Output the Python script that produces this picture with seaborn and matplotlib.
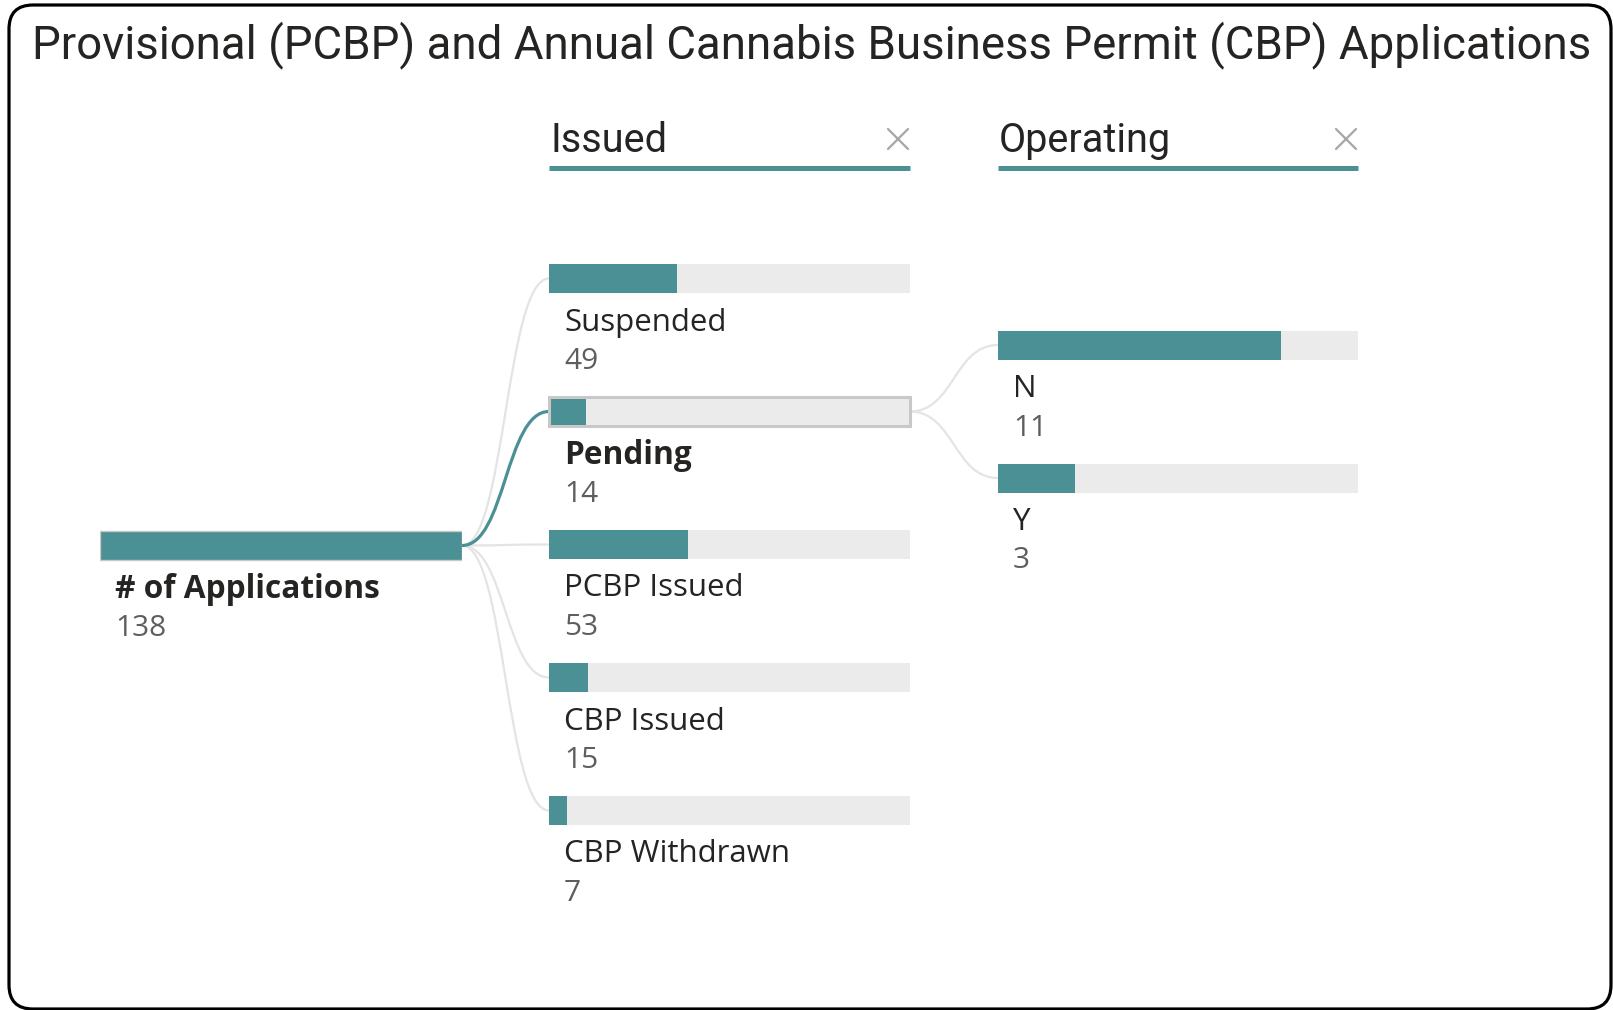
import numpy as np
import pandas as pd
import matplotlib
matplotlib.use("Agg")
import matplotlib.pyplot as plt
import seaborn as sns
from matplotlib.patches import FancyBboxPatch, PathPatch, Rectangle
from matplotlib.path import Path

# ---------------- data ----------------
title = "Provisional (PCBP) and Annual Cannabis Business Permit (CBP) Applications"
root_label = "# of Applications"
root_value = 138
issued_levels = ["Suspended", "Pending", "PCBP Issued", "CBP Issued", "CBP Withdrawn"]
issued_values = [49, 14, 53, 15, 7]
operating_levels = ["N", "Y"]
operating_values = [11, 3]
selected_issued = "Pending"
headers = ["Issued", "Operating"]

# ---------------- style ----------------
TEAL = "#4a9094"
TRACK = "#ebebeb"
LINK = "#e4e4e4"
OUTLINE = "#c8c8c8"
DARK = "#252423"
GREY_TXT = "#605e5c"
XCOL = "#a6a6a6"

sns.set_theme(style="white")
plt.rcParams["font.family"] = ["Open Sans", "DejaVu Sans"]

W, H, DPI = 1613, 1010, 100
fig = plt.figure(figsize=(W / DPI, H / DPI), dpi=DPI)
fig.patch.set_facecolor("white")
renderer = fig.canvas.get_renderer()


def px_axes(left, top, width, height, z=2):
    ax = fig.add_axes([left / W, 1 - (top + height) / H, width / W, height / H], zorder=z)
    ax.set_facecolor("none")
    return ax


bg = fig.add_axes([0, 0, 1, 1], zorder=0)
bg.set_xlim(0, W)
bg.set_ylim(H, 0)
bg.axis("off")


def fit_size(text, target_px, family, weight="normal"):
    t = fig.text(0, 0, text, fontsize=20, family=family, weight=weight)
    w = t.get_window_extent(renderer).width
    t.remove()
    return 20 * target_px / w


LABEL_FS = fit_size("CBP Withdrawn", 226, ["Open Sans", "DejaVu Sans"])
BOLD_FS = fit_size("# of Applications", 265, ["Open Sans", "DejaVu Sans"], "bold")
VALUE_FS = fit_size("138", 51, ["Open Sans", "DejaVu Sans"])
HEAD_FS = fit_size("Operating", 172, ["Roboto", "DejaVu Sans"])
TITLE_FS = fit_size(title, 1559, ["Roboto", "DejaVu Sans"])

ROW = 133          # px between bar centres
BAR_H = 29 / ROW   # bar thickness in category units


def draw_column(ax, cats, vals, total, name, selected=None, edge=False):
    df = pd.DataFrame({name: cats, "value": vals, "total": [total] * len(cats)})
    sns.barplot(data=df, x="total", y=name, order=cats, color=TRACK, saturation=1,
                width=BAR_H, errorbar=None, ax=ax, linewidth=0)
    sns.barplot(data=df, x="value", y=name, order=cats, color=TEAL, saturation=1,
                width=BAR_H, errorbar=None, ax=ax,
                linewidth=1 if edge else 0, edgecolor=OUTLINE)
    ax.set_xlim(0, total)
    ax.set_ylim(len(cats) - 0.5, -0.5)
    ax.axis("off")
    for i, (c, v) in enumerate(zip(cats, vals)):
        bold = (c == selected) or edge
        ax.annotate(c, xy=(0, i), xytext=(15, -44), textcoords="offset pixels",
                    ha="left", va="center", color=DARK,
                    fontsize=BOLD_FS if bold else LABEL_FS,
                    weight="bold" if bold else "normal")
        ax.annotate(str(v), xy=(0, i), xytext=(15, -83), textcoords="offset pixels",
                    ha="left", va="center", color=GREY_TXT, fontsize=VALUE_FS)
    if selected is not None:
        p = ax.patches[cats.index(selected)]
        ax.add_patch(Rectangle(p.get_xy(), p.get_width(), p.get_height(), fill=False,
                               ec=OUTLINE, lw=2.2, zorder=5, clip_on=False))


# root column
ax0 = px_axes(100, 545.5 - ROW / 2, 362, ROW)
draw_column(ax0, [root_label], [root_value], root_value, "root", edge=True)

# issued column
ax1 = px_axes(549, 278.5 - ROW / 2, 361, ROW * len(issued_levels))
draw_column(ax1, issued_levels, issued_values, root_value, "Issued", selected=selected_issued)

# operating column
sel_val = issued_values[issued_levels.index(selected_issued)]
ax2 = px_axes(998, 345 - ROW / 2, 360, ROW * len(operating_levels))
draw_column(ax2, operating_levels, operating_values, sel_val, "Operating")


def to_bg(ax, pt):
    return bg.transData.inverted().transform(ax.transData.transform(pt))


def link(p0, p1, color, lw, z=1):
    xm = (p0[0] + p1[0]) / 2
    verts = [p0, (xm, p0[1]), (xm, p1[1]), p1]
    path = Path(verts, [Path.MOVETO, Path.CURVE4, Path.CURVE4, Path.CURVE4])
    bg.add_patch(PathPatch(path, fill=False, ec=color, lw=lw, zorder=z, capstyle="round"))


r0 = to_bg(ax0, (root_value, 0))
for i, c in enumerate(issued_levels):
    if c != selected_issued:
        link(r0, to_bg(ax1, (0, i)), LINK, 1.6, 1)
sidx = issued_levels.index(selected_issued)
link(r0, to_bg(ax1, (0, sidx)), TEAL, 2.3, 2)
s0 = to_bg(ax1, (root_value, sidx))
for i, c in enumerate(operating_levels):
    link(s0, to_bg(ax2, (0, i)), LINK, 1.6, 1)

# headers
for ax, name, total in [(ax1, headers[0], root_value), (ax2, headers[1], sel_val)]:
    xl = to_bg(ax, (0, 0))[0]
    xr = to_bg(ax, (total, 0))[0]
    bg.text(xl + 1, 140, name, ha="left", va="center", fontsize=HEAD_FS,
            family=["Roboto", "DejaVu Sans"], color=DARK)
    bg.plot([xl, xr], [167.5, 167.5], color=TEAL, lw=3.6, solid_capstyle="butt")
    cx, cy, s = xr - 12, 139, 10
    bg.plot([cx - s, cx + s], [cy - s, cy + s], color=XCOL, lw=1.6)
    bg.plot([cx - s, cx + s], [cy + s, cy - s], color=XCOL, lw=1.6)

# title
bg.text(812, 45.5, title, ha="center", va="center", fontsize=TITLE_FS,
        family=["Roboto", "DejaVu Sans"], color=DARK)

# border
bg.add_patch(FancyBboxPatch((9, 5), 1602, 1004, boxstyle="round,pad=0,rounding_size=24",
                            fill=False, ec="black", lw=2.3, zorder=6, clip_on=False))

fig.savefig("out.png", dpi=DPI, facecolor="white")
